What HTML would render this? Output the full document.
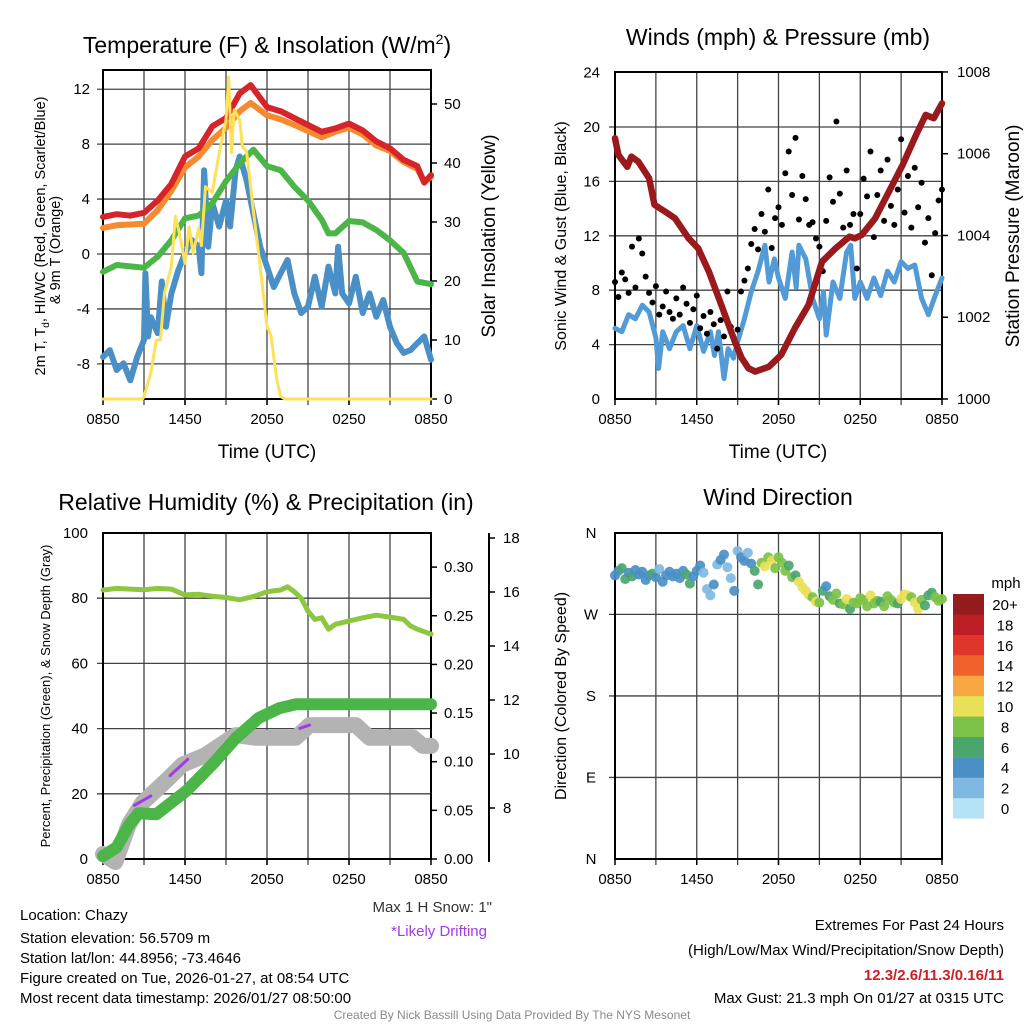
<!DOCTYPE html>
<html><head><meta charset="utf-8"><style>
html,body{margin:0;padding:0;background:#fff;}
svg{display:block;font-family:"Liberation Sans",Arial,sans-serif;}
</style></head><body>
<svg id="chart" width="1024" height="1024" viewBox="0 0 1024 1024">
<rect x="0" y="0" width="1024" height="1024" fill="#fff"/>
<g id="p1"></g>
<g id="p2"></g>
<g id="p3"></g>
<g id="p4"></g>

<text x="267" y="53" font-size="23" text-anchor="middle">Temperature (F) &amp; Insolation (W/m<tspan font-size="14" dy="-9">2</tspan><tspan dy="9">)</tspan></text>
<text x="778" y="45" font-size="23" text-anchor="middle">Winds (mph) &amp; Pressure (mb)</text>
<text x="266" y="510" font-size="23" text-anchor="middle">Relative Humidity (%) &amp; Precipitation (in)</text>
<text x="778" y="505" font-size="23" text-anchor="middle">Wind Direction</text>

<text x="267" y="458" font-size="19" text-anchor="middle">Time (UTC)</text>
<text x="778" y="458" font-size="19" text-anchor="middle">Time (UTC)</text>

<text transform="translate(45,236) rotate(-90)" font-size="14.5" text-anchor="middle">2m T, T<tspan font-size="10" dy="4">d</tspan><tspan dy="-4">, HI/WC (Red, Green, Scarlet/Blue)</tspan></text>
<text transform="translate(60,250) rotate(-90)" font-size="14.5" text-anchor="middle">&amp; 9m T (Orange)</text>
<text transform="translate(495,236) rotate(-90)" font-size="19" text-anchor="middle">Solar Insolation (Yellow)</text>
<text transform="translate(566,236) rotate(-90)" font-size="16" text-anchor="middle">Sonic Wind &amp; Gust (Blue, Black)</text>
<text transform="translate(1019,236) rotate(-90)" font-size="19" text-anchor="middle">Station Pressure (Maroon)</text>
<text transform="translate(50,696) rotate(-90)" font-size="13" text-anchor="middle">Percent, Precipitation (Green), &amp; Snow Depth (Gray)</text>
<text transform="translate(566,696) rotate(-90)" font-size="16" text-anchor="middle">Direction (Colored By Speed)</text>

<text x="1006" y="588" font-size="15" text-anchor="middle">mph</text>

<g font-size="15">
<text x="20" y="920">Location: Chazy</text>
<text x="20" y="943">Station elevation: 56.5709 m</text>
<text x="20" y="963">Station lat/lon: 44.8956; -73.4646</text>
<text x="20" y="983">Figure created on Tue, 2026-01-27, at 08:54 UTC</text>
<text x="20" y="1003">Most recent data timestamp: 2026/01/27 08:50:00</text>
</g>
<text x="492" y="912" font-size="15" text-anchor="end" fill="#333">Max 1 H Snow: 1"</text>
<text x="487" y="936" font-size="15" text-anchor="end" fill="#a23be6">*Likely Drifting</text>
<g font-size="15" text-anchor="end">
<text x="1004" y="930">Extremes For Past 24 Hours</text>
<text x="1004" y="955">(High/Low/Max Wind/Precipitation/Snow Depth)</text>
<text x="1004" y="980" fill="#cc1f26" font-weight="bold">12.3/2.6/11.3/0.16/11</text>
<text x="1004" y="1003">Max Gust: 21.3 mph On 01/27 at 0315 UTC</text>
</g>
<text x="512" y="1019" font-size="12" text-anchor="middle" fill="#8a8a8a">Created By Nick Bassill Using Data Provided By The NYS Mesonet</text>
</svg>
<script>
// ---------- data ----------
var xTickHours = [0, 6, 12, 18, 24];
var xTickLabels = ["0850", "1450", "2050", "0250", "0850"];
var tempTicks = [-8, -4, 0, 4, 8, 12];
var insolTicks = [0, 10, 20, 30, 40, 50];
var windTicks = [0, 4, 8, 12, 16, 20, 24];
var presTicks = [1000, 1002, 1004, 1006, 1008];
var rhTicks = [0, 20, 40, 60, 80, 100];
var precipTicks = [0, 0.05, 0.10, 0.15, 0.20, 0.25, 0.30];
var precipTickLabels = ["0.00", "0.05", "0.10", "0.15", "0.20", "0.25", "0.30"];
var snowTicks = [8, 10, 12, 14, 16, 18];
var dirTicks = [0, 90, 180, 270, 360];
var dirTickLabels = ["N", "E", "S", "W", "N"];
var speedBinLabels = ["0", "2", "4", "6", "8", "10", "12", "14", "16", "18", "20+"];
var speedBinColors = ["#b5e2f7", "#7fb9e3", "#4a8fc6", "#4aa66d", "#7cc249", "#e8e157", "#f7a843", "#f0622c", "#e0352a", "#bd1d24", "#951b1e"];

var redT = [0, 1, 2, 3, 4, 5, 6, 7, 8, 9, 10, 10.8, 12, 13, 14, 15, 16, 17, 18, 19, 20, 21, 22, 23, 23.5, 24];
var redV = [2.7, 2.9, 2.8, 3.0, 3.9, 5.1, 7.1, 7.7, 9.3, 9.9, 11.7, 12.3, 10.7, 10.4, 9.9, 9.4, 8.9, 9.15, 9.5, 9.0, 8.2, 7.7, 6.85, 6.4, 5.2, 5.75];
var orangeT = [0, 1, 3, 4, 5, 6, 7, 8, 9, 10, 10.8, 12, 13, 14, 16, 17, 18, 19, 20, 21, 22, 23, 23.5, 24];
var orangeV = [1.9, 2.1, 2.2, 3.2, 4.6, 6.3, 7.1, 8.3, 9.2, 10.4, 11.0, 10.1, 9.8, 9.4, 8.5, 8.9, 9.2, 8.7, 7.9, 7.5, 6.7, 6.2, 5.25, 5.6];
var greenT = [0, 1, 2, 3, 4, 5, 6, 7, 8, 9, 10, 11, 12, 13, 14, 15, 16, 16.5, 17, 18, 19, 20, 21, 22, 23, 24];
var greenV = [-1.3, -0.8, -0.9, -1.0, -0.2, 1.0, 2.6, 2.8, 3.7, 5.3, 6.6, 7.6, 6.4, 6.1, 4.9, 3.9, 2.5, 1.5, 1.5, 2.4, 2.3, 1.75, 1.0, 0.07, -2.0, -2.2];
var blueT = [0, 0.5, 1, 1.5, 2, 2.5, 3, 3.1, 3.3, 3.5, 4, 4.3, 4.6, 5, 5.5, 6, 6.5, 7, 7.2, 7.4, 7.7, 8, 8.5, 9, 9.3, 9.7, 10, 10.5, 11, 11.5, 12, 12.5, 13, 13.5, 14, 14.5, 15, 15.5, 16, 16.5, 17, 17.2, 17.5, 18, 18.5, 19, 19.5, 20, 20.5, 21, 21.5, 22, 22.5, 23, 23.5, 24];
var blueV = [-7.5, -7.0, -8.45, -7.96, -9.2, -7.5, -6.26, -1.4, -6.0, -4.6, -5.77, -2.0, -5.3, -2.9, -1.2, 0.05, 1.02, 0.53, -1.4, 6.1, 0.53, 3.7, 2.0, 3.9, 2.0, 6.1, 7.1, 5.4, 2.96, 0.53, -0.92, -2.4, -1.4, -0.44, -2.87, -4.3, -3.84, -1.65, -3.84, -0.92, -2.87, 0.53, -2.87, -3.6, -1.65, -4.3, -2.87, -4.57, -3.35, -5.3, -6.5, -7.2, -7.0, -6.5, -6.0, -7.7];
var insolT = [0, 2.9, 3, 3.5, 3.9, 4.2, 4.5, 5, 5.3, 5.6, 6, 6.3, 6.6, 7, 7.2, 7.5, 8, 8.5, 9, 9.2, 9.4, 9.6, 10, 10.2, 10.5, 11, 11.5, 12, 12.3, 12.7, 13, 13.3, 24];
var insolV = [0, 0, 0.4, 4.4, 10, 10, 18, 22.4, 31, 28, 23, 29.2, 24.7, 29, 26, 36, 35, 41.7, 47.3, 54.6, 41.7, 49, 47.3, 42.8, 42, 32, 22.4, 12.3, 10.7, 3.4, 0.4, 0, 0];

var presT = [0, 0.25, 0.9, 1.2, 1.7, 2.5, 2.9, 3.7, 4.4, 5.4, 6.1, 6.9, 7.8, 8.8, 9.3, 9.8, 10.3, 11.3, 12.2, 13.2, 14.2, 15.2, 16.2, 17.2, 17.6, 18.1, 19.1, 20.1, 21.1, 22.1, 22.8, 23.4, 24];
var presV = [1006.38, 1005.97, 1005.68, 1005.93, 1005.81, 1005.40, 1004.75, 1004.58, 1004.42, 1003.93, 1003.69, 1003.11, 1002.30, 1001.40, 1001.0, 1000.75, 1000.67, 1000.79, 1001.08, 1001.73, 1002.30, 1003.36, 1003.69, 1003.97, 1003.93, 1004.01, 1004.42, 1005.07, 1005.72, 1006.46, 1006.95, 1006.87, 1007.23];
var windT = [0, 0.5, 1, 1.5, 2, 2.5, 3, 3.2, 3.5, 4, 4.5, 5, 5.5, 6, 6.5, 7, 7.3, 7.6, 8, 8.3, 8.7, 9, 9.5, 10, 10.5, 11, 11.3, 11.7, 12, 12.5, 13, 13.3, 13.5, 14, 14.5, 15, 15.3, 15.5, 16, 16.5, 17, 17.3, 17.6, 18, 18.5, 19, 19.5, 20, 20.5, 21, 21.5, 22, 22.5, 23, 23.5, 24];
var windV = [5.2, 4.95, 6.2, 5.9, 6.9, 6.4, 4.5, 2.25, 4.95, 3.7, 4.95, 5.4, 3.7, 5.4, 3.5, 4.95, 3.2, 4.95, 1.5, 3.7, 3.0, 4.2, 5.9, 7.9, 9.4, 11.3, 8.6, 10.3, 8.9, 7.4, 10.8, 8.2, 11.3, 10.3, 7.4, 5.9, 7.9, 4.7, 8.6, 7.4, 10.8, 11.3, 7.4, 8.6, 7.4, 8.9, 7.6, 9.4, 8.6, 10.1, 9.6, 9.85, 7.4, 6.2, 7.6, 8.9];
var gustV = [8.6, 7.5, 9.3, 8.8, 7.8, 11.2, 8.2, 11.8, 10.7, 9.0, 7.8, 7.1,
  8.3, 6.2, 6.8, 7.9, 6.4, 5.9, 7.4, 6.2, 8.2, 7.0, 5.6, 6.6,
  7.6, 5.2, 6.1, 4.8, 6.4, 5.5, 3.7, 5.8, 4.6, 7.9, 5.3, 4.4,
  5.1, 7.9, 8.7, 9.6, 11.4, 12.5, 11.0, 13.6, 12.3, 15.4, 11.1, 13.3,
  14.1, 12.8, 16.6, 18.2, 15.0, 19.2, 13.2, 16.4, 14.7, 12.8, 13.0, 11.8,
  11.2, 9.4, 13.1, 16.3, 14.5, 20.4, 15.1, 12.6, 16.8, 12.8, 13.6, 9.6,
  13.6, 16.2, 14.9, 18.2, 11.9, 15.0, 16.8, 13.1, 17.6, 14.2, 12.8, 15.4,
  19.1, 13.7, 16.4, 12.6, 17.0, 14.1, 15.9, 11.5, 13.3, 9.1, 12.2, 14.6, 15.4];

var rhT = [0, 1, 2, 3, 4, 5, 6, 7, 8, 9, 10, 11, 12, 13, 13.5, 14, 14.5, 15, 15.5, 16, 16.5, 17, 18, 19, 20, 21, 22, 22.5, 23, 24];
var rhV = [82.5, 83, 82.8, 82.6, 83, 82.8, 81, 81.2, 80.6, 80.2, 79.5, 80.5, 82, 82.5, 83.5, 82, 80, 76, 73.5, 74, 70.5, 72, 73, 74, 74.8, 74.2, 73.5, 71.5, 70.5, 69];
var precipT = [0, 1, 1.9, 2.6, 3.9, 6.1, 8, 9.7, 11.4, 12.9, 14.1, 24];
var precipV = [0.003, 0.012, 0.035, 0.047, 0.046, 0.07, 0.097, 0.124, 0.145, 0.155, 0.159, 0.159];
var snowT = [0, 0.9, 1.9, 2.9, 4.8, 5.8, 7.5, 9.7, 11.2, 14.1, 15.1, 18.5, 19.5, 22.7, 23.4, 24];
var snowV = [6.3, 6.0, 7.4, 8.2, 9.1, 9.6, 9.96, 10.7, 10.6, 10.6, 11.07, 11.07, 10.6, 10.6, 10.3, 10.3];
var driftT1 = [2.3, 3.5];
var driftV1 = [8.1, 8.45];
var driftT2 = [4.9, 6.2];
var driftV2 = [9.2, 9.8];
var driftT3 = [14.4, 15.1];
var driftV3 = [10.95, 11.07];

var dirT = [];
for (var i = 0; i < 97; i++) { dirT.push(i * 0.25); }
var dirV = [313, 318, 321, 309, 316, 312, 319, 314, 317, 308, 313, 315,
  311, 320, 306, 313, 317, 312, 315, 310, 318, 314, 304, 312,
  318, 324, 316, 298, 291, 303, 325, 330, 336, 322, 310, 296,
  340, 333, 329, 338, 326, 318, 303, 327, 323, 333, 329, 321,
  333, 327, 318, 324, 311, 313, 306, 300, 296, 291, 289, 284,
  283, 296, 301, 290, 286, 293, 282, 281, 287, 276, 283, 282,
  288, 286, 279, 291, 282, 285, 284, 279, 290, 286, 283, 282,
  287, 292, 291, 289, 283, 276, 286, 280, 291, 294, 289, 285, 287];
var speedV = [4, 5, 6, 6, 5, 6, 4, 4, 5, 4, 4, 6,
  4, 3, 4, 4, 4, 5, 4, 4, 5, 6, 6, 4,
  4, 4, 2, 2, 3, 4, 2, 4, 4, 2, 3, 4,
  2, 4, 4, 2, 4, 6, 6, 8, 10, 8, 10, 8,
  8, 8, 8, 6, 8, 6, 10, 10, 10, 10, 8, 10,
  8, 6, 4, 6, 8, 8, 6, 8, 10, 6, 8, 8,
  8, 8, 8, 10, 8, 8, 6, 8, 8, 8, 8, 6,
  10, 10, 10, 8, 10, 10, 8, 6, 6, 6, 8, 8, 8];

// ---------- scales ----------
var NS = "http://www.w3.org/2000/svg";
function X1(t) { return 103 + t / 24 * 328; }
function Y1(v) { return 254 - v * 13.73; }
function YI(v) { return 399 - v * 5.9; }
function X2(t) { return 615 + t / 24 * 327; }
function YW(v) { return 399 - v * 13.6; }
function YP(p) { return 399 - (p - 1000) * 40.88; }
function X3(t) { return 103 + t / 24 * 328; }
function YH(v) { return 859 - v * 3.26; }
function YR(v) { return 859 - v * 973; }
function YS(v) { return 862 - (v - 6) * 27; }
function X4(t) { return 615 + t / 24 * 327; }
function YD(d) { return 859 - d * 0.906; }

function add(parent, tag, attrs, name) {
  var el = document.createElementNS(NS, tag);
  for (var k in attrs) el.setAttribute(k, attrs[k]);
  
  
  parent.appendChild(el);
  return el;
}
function txt(parent, x, y, s, anchor, size, name) {
  var el = add(parent, 'text', {x: x, y: y, 'text-anchor': anchor, 'font-size': size}, name);
  el.textContent = s;
  return el;
}
function pathOf(ts, vs, fx, fy) {
  var d = '';
  for (var i = 0; i < ts.length; i++) d += (i ? 'L' : 'M') + fx(ts[i]).toFixed(1) + ',' + fy(vs[i]).toFixed(1);
  return d;
}
function line(parent, ts, vs, fx, fy, color, w, name) {
  return add(parent, 'path', {d: pathOf(ts, vs, fx, fy), fill: 'none', stroke: color, 'stroke-width': w, 'stroke-linejoin': 'round', 'stroke-linecap': 'round'}, name);
}

function frame(g, x0, y0, x1, y1, fx, hGrid, fy, prefix) {
  var i;
  for (i = 1; i < 8; i++) {
    var gx = x0 + (x1 - x0) * i / 8;
    add(g, 'line', {x1: gx, y1: y0, x2: gx, y2: y1 + 6, stroke: '#444', 'stroke-width': 1.3}, prefix + '-vgrid');
  }
  for (i = 0; i < hGrid.length; i++) {
    var gy = fy(hGrid[i]);
    add(g, 'line', {x1: x0 - 6, y1: gy, x2: x1, y2: gy, stroke: '#444', 'stroke-width': 1.3}, prefix + '-hgrid');
  }
  add(g, 'rect', {x: x0, y: y0, width: x1 - x0, height: y1 - y0, fill: 'none', stroke: '#000', 'stroke-width': 2}, prefix + '-plot-frame');
  for (i = 0; i < xTickHours.length; i++) {
    var tx = fx(xTickHours[i]);
    add(g, 'line', {x1: tx, y1: y1, x2: tx, y2: y1 + 6, stroke: '#000', 'stroke-width': 1.5}, prefix + '-x-tick');
    txt(g, tx, y1 + 25, xTickLabels[i], 'middle', 15, prefix + '-x-tick-label');
  }
}

// ---------- panel 1 ----------
var p1 = document.getElementById('p1');
frame(p1, 103, 70, 431, 399, X1, [-8, -4, 0, 4, 8, 12], Y1, 'p1');
tempTicks.forEach(function (v) { txt(p1, 90, Y1(v) + 5, String(v), 'end', 15, 'p1-y-tick-label'); });
insolTicks.forEach(function (v) {
  add(p1, 'line', {x1: 431, y1: YI(v), x2: 437, y2: YI(v), stroke: '#000', 'stroke-width': 1.5}, 'p1-right-tick');
  txt(p1, 444, YI(v) + 5, String(v), 'start', 15, 'p1-right-tick-label');
});
line(p1, blueT, blueV, X1, Y1, '#4a8fc6', 6, 'wind-chill-line');
line(p1, greenT, greenV, X1, Y1, '#4cb548', 6, 'dewpoint-line');
line(p1, orangeT, orangeV, X1, Y1, '#f58a2e', 6, 'temp-9m-line');
line(p1, redT, redV, X1, Y1, '#d7242a', 6, 'temp-2m-line');
line(p1, insolT, insolV, X1, YI, '#fce15a', 3, 'insolation-line');

// ---------- panel 2 ----------
var p2 = document.getElementById('p2');
frame(p2, 615, 72, 942, 399, X2, [4, 8, 12, 16, 20], YW, 'p2');
windTicks.forEach(function (v) { txt(p2, 600, YW(v) + 5, String(v), 'end', 15, 'p2-y-tick-label'); });
presTicks.forEach(function (v) {
  add(p2, 'line', {x1: 942, y1: YP(v), x2: 948, y2: YP(v), stroke: '#000', 'stroke-width': 1.5}, 'p2-right-tick');
  txt(p2, 957, YP(v) + 5, String(v), 'start', 15, 'p2-right-tick-label');
});
line(p2, windT, windV, X2, YW, '#529bd6', 5, 'sonic-wind-line');
gustV.forEach(function (v, i) {
  add(p2, 'circle', {cx: X2(i * 0.25), cy: YW(v), r: 3, fill: '#000'}, 'gust-point');
});
line(p2, presT, presV, X2, YP, '#99191c', 6.5, 'pressure-line');

// ---------- panel 3 ----------
var p3 = document.getElementById('p3');
frame(p3, 103, 533, 431, 859, X3, [20, 40, 60, 80], YH, 'p3');
rhTicks.forEach(function (v) { txt(p3, 88, YH(v) + 5, String(v), 'end', 15, 'p3-y-tick-label'); });
precipTicks.forEach(function (v, i) {
  add(p3, 'line', {x1: 431, y1: YR(v), x2: 437, y2: YR(v), stroke: '#000', 'stroke-width': 1.5}, 'p3-precip-tick');
  txt(p3, 444, YR(v) + 5, precipTickLabels[i], 'start', 15, 'p3-precip-tick-label');
});
add(p3, 'line', {x1: 489, y1: 533, x2: 489, y2: 862, stroke: '#000', 'stroke-width': 2}, 'snow-axis-line');
snowTicks.forEach(function (v) {
  add(p3, 'line', {x1: 489, y1: YS(v), x2: 495, y2: YS(v), stroke: '#000', 'stroke-width': 1.5}, 'snow-tick');
  txt(p3, 503, YS(v) + 5, String(v), 'start', 15, 'snow-tick-label');
});
line(p3, rhT, rhV, X3, YH, '#8dc63f', 5, 'relative-humidity-line');
line(p3, snowT, snowV, X3, YS, '#b3b3b3', 16, 'snow-depth-line');
line(p3, driftT1, driftV1, X3, YS, '#a23be6', 3, 'drift-segment');
line(p3, driftT2, driftV2, X3, YS, '#a23be6', 3, 'drift-segment');
line(p3, driftT3, driftV3, X3, YS, '#a23be6', 3, 'drift-segment');
line(p3, precipT, precipV, X3, YR, '#4cb548', 12, 'precipitation-line');

// ---------- panel 4 ----------
var p4 = document.getElementById('p4');
frame(p4, 615, 533, 942, 859, X4, [90, 180, 270], YD, 'p4');
dirTicks.forEach(function (v, i) { txt(p4, 591, YD(v) + 5, dirTickLabels[i], 'middle', 15, 'p4-y-tick-label'); });
dirV.forEach(function (d, i) {
  var bin = Math.min(Math.floor(speedV[i] / 2), 10);
  add(p4, 'circle', {cx: X4(dirT[i]), cy: YD(d), r: 5, fill: speedBinColors[bin], opacity: 0.92}, 'wind-direction-point');
});
for (var b = 0; b < 11; b++) {
  var by = 594 + (10 - b) * 20.4;
  add(p4, 'rect', {x: 953, y: by, width: 31, height: 20.6, fill: speedBinColors[b]}, 'colorbar-block');
  txt(p4, 1005, by + 16, speedBinLabels[b], 'middle', 15, 'colorbar-label');
}
</script>
</body></html>
